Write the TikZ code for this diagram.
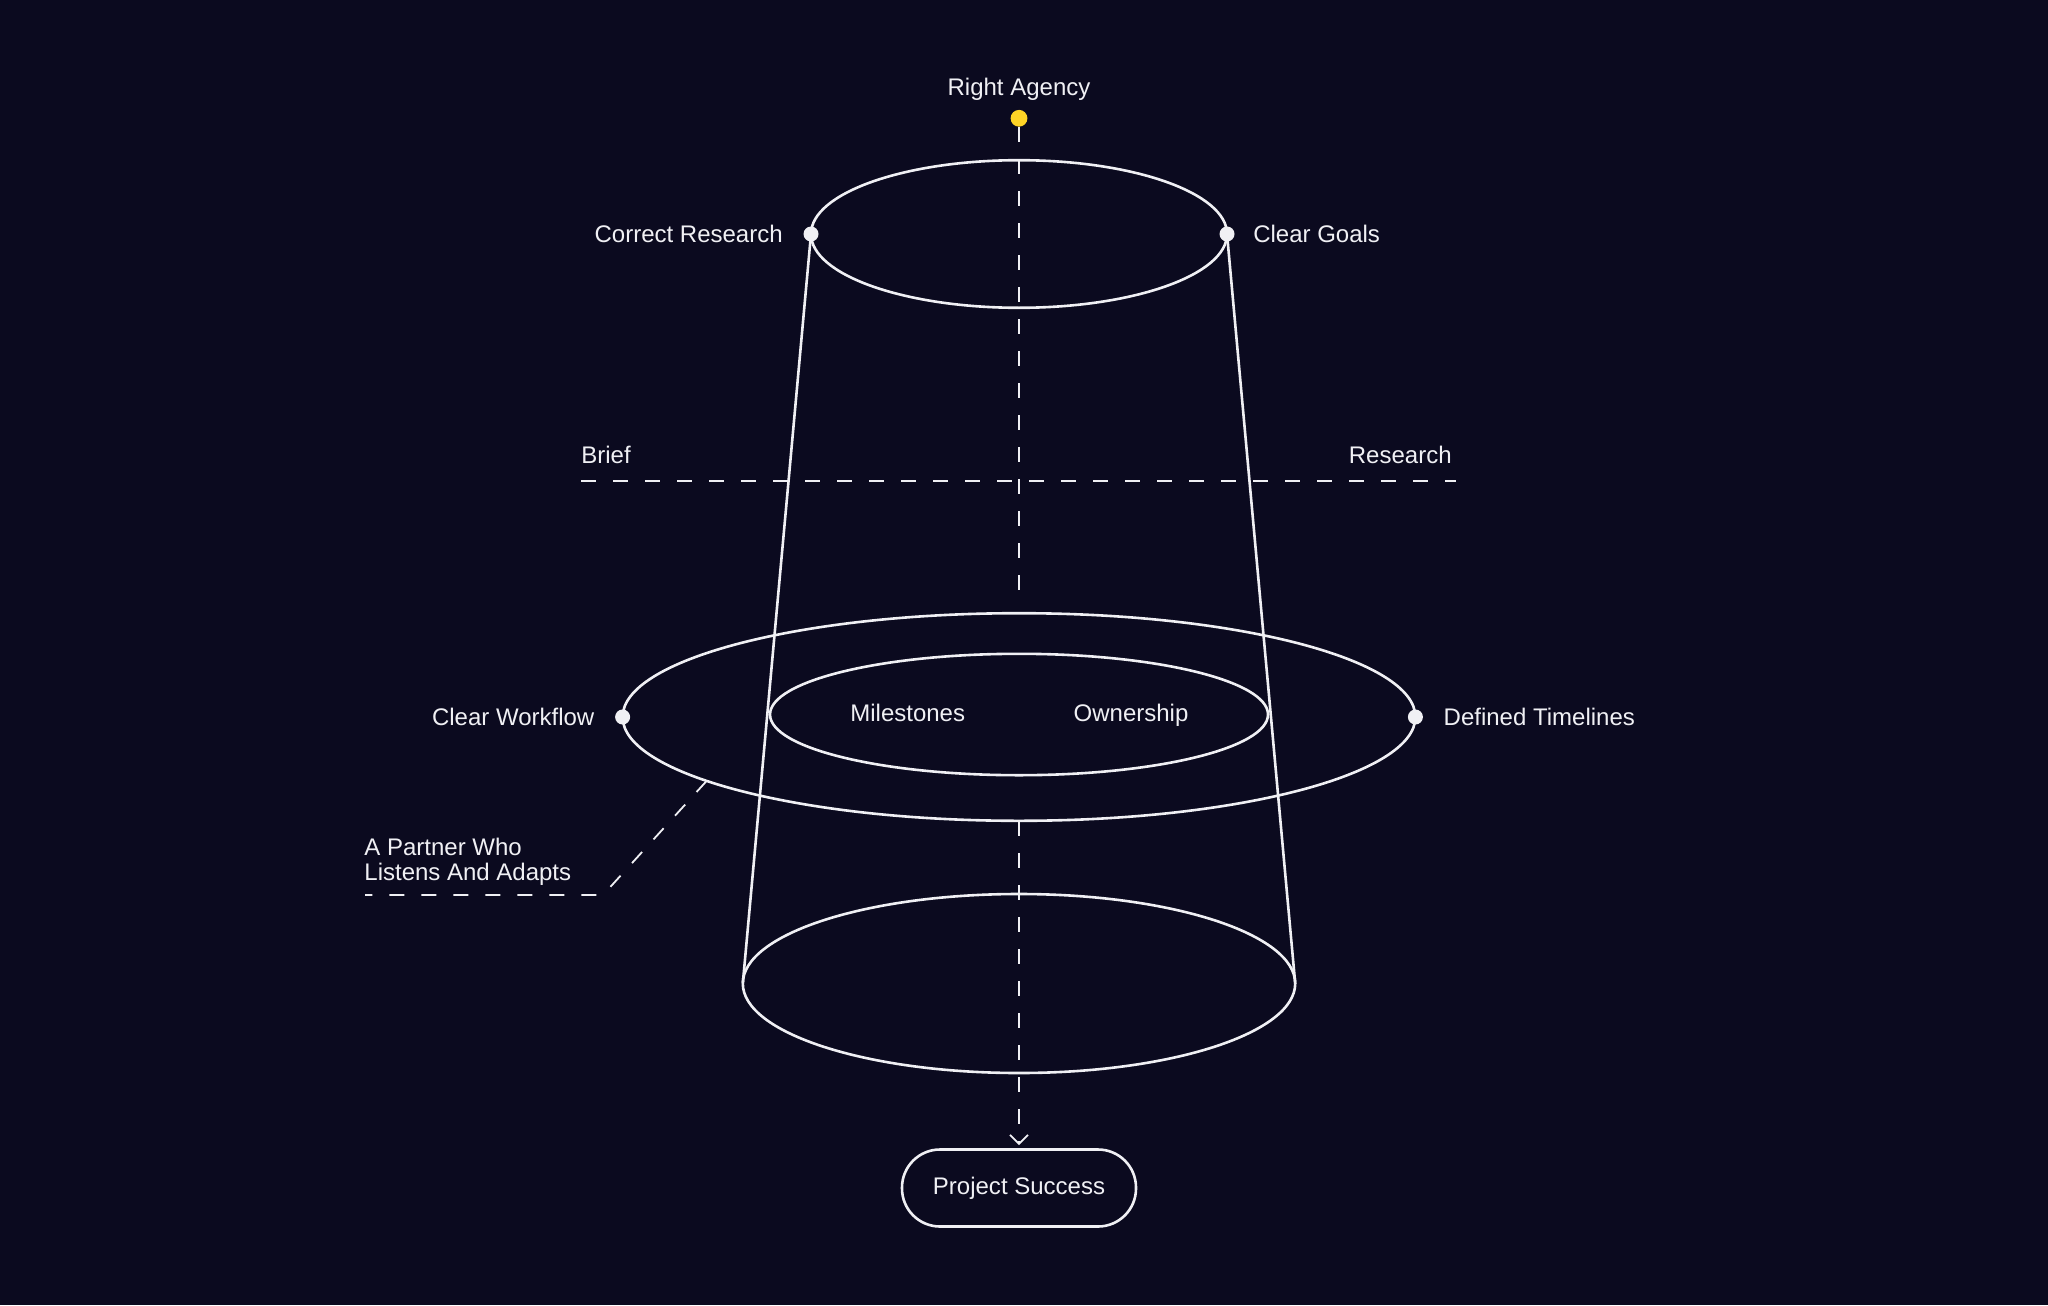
\documentclass[tikz,border=0pt]{standalone}
\usepackage{fontspec}
\setmainfont{Liberation Sans}
\usetikzlibrary{positioning,arrows.meta,calc,backgrounds}

\definecolor{bgnavy}{RGB}{11,10,31}
\definecolor{linewhite}{RGB}{240,240,244}
\definecolor{dotyellow}{RGB}{255,212,38}

\tikzset{
  outline/.style={draw=linewhite, line width=1.3pt},
  guide/.style={draw=linewhite, line width=0.9pt, dash pattern=on 7.5pt off 8.5pt},
  lbl/.style={text=linewhite, font=\fontsize{12}{12.2}\selectfont, inner sep=0pt},
  pin/.style={circle, fill=linewhite, inner sep=0pt, minimum size=7.5pt},
}

\begin{document}
\begin{tikzpicture}[x=0.5pt,y=-0.5pt]
  \fill[bgnavy] (0,0) rectangle (2048,1305);
  \useasboundingbox (0,0) rectangle (2048,1305);

  % rings of the cone
  \coordinate (T) at (1019,234); \coordinate (M) at (1019,717);
  \coordinate (I) at (1019,714.5); \coordinate (B) at (1019,983.5);
  \coordinate (TL) at (811,234); \coordinate (TR) at (1227,234);
  \coordinate (ML) at (622.6,717); \coordinate (MR) at (1415.4,717);
  \coordinate (BL) at (742.8,983.5); \coordinate (BR) at (1295.2,983.5);
  \coordinate (Mtop) at (1019,605); \coordinate (Mbot) at (1019,821);

  \draw[outline] (T) ellipse (208 and 73.8);
  \draw[outline] (M) ellipse (396.4 and 103.8);
  \draw[outline] (I) ellipse (249 and 60.7);
  \draw[outline] (B) ellipse (276.2 and 89.5);
  \draw[outline] (TL) -- (BL); \draw[outline] (TR) -- (BR);

  % axis and cut
  \node[circle, fill=dotyellow, inner sep=0pt, minimum size=8.4pt] (agencydot) at (1019,118.3) {};
  \node[lbl, anchor=base] (agency) at (1019,96) {Right Agency};
  \node[lbl, draw=linewhite, line width=1.3pt, rounded corners=19pt,
        minimum width=117pt, minimum height=38.5pt] (success) at (1019,1188) {Project Success};
  \draw[guide] (agencydot.south) -- (Mtop);
  \draw[guide, -{Straight Barb[length=4.5pt,width=9pt]}, shorten >=1.5pt] (Mbot) -- (success.north);

  \coordinate (briefL) at (581,480.6); \coordinate (researchR) at (1456,480.6);
  \draw[guide] (briefL) -- (researchR);
  \node[lbl, anchor=base west] (brief) at ($(briefL)+(0,-17.6)$) {Brief};
  \node[lbl, anchor=base east] (research) at ($(researchR)+(-4,-17.6)$) {Research};

  % points on the rings
  \foreach \p in {TL,TR,ML,MR} \node[pin] (pin\p) at (\p) {};
  \node[lbl, left=10pt of pinTL] (correct) {Correct Research};
  \node[lbl, right=9pt of pinTR] (goals) {Clear Goals};
  \node[lbl, left=10pt of pinML] (workflow) {Clear Workflow};
  \node[lbl, right=10pt of pinMR] (timelines) {Defined Timelines};
  \node[lbl, anchor=base] (milestones) at (907.7,721.5) {Milestones};
  \node[lbl, anchor=base] (ownership) at (1131,721.5) {Ownership};

  % partner callout
  \coordinate (leadS) at ($(M)+({396.4*cos(142)},{103.8*sin(142)})$);
  \coordinate (leadC) at (603,895); \coordinate (leadE) at (365,895);
  \draw[guide, rounded corners=3pt] (leadS) -- (leadC) -- (leadE);
  \node[lbl, anchor=north west, align=left] (partner) at (364,838) {A Partner Who\\Listens And Adapts};
\end{tikzpicture}
\end{document}
